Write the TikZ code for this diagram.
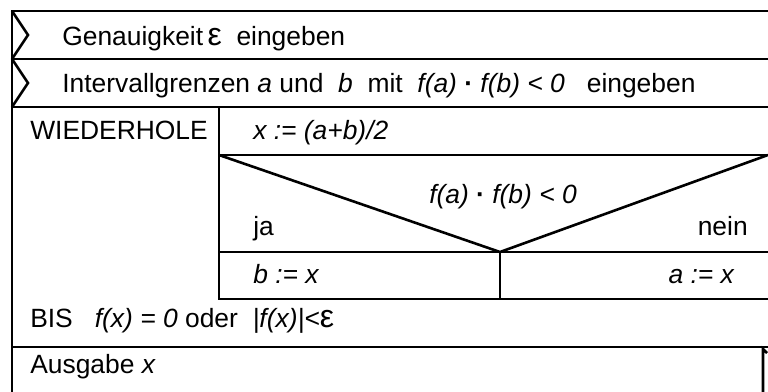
\documentclass[tikz,border=0pt]{standalone}
\usepackage{fontspec}
\setmainfont{Liberation Sans}
\usetikzlibrary{positioning}

\newcommand{\epsbig}{{\fontsize{16}{15}\selectfont ε}}

\begin{document}
\begin{tikzpicture}[x=0.5pt,y=-0.5pt,line width=1.3pt,
  txt/.style={anchor=base west,inner sep=0pt,font=\fontsize{13.2}{15}\selectfont},
  txtr/.style={txt,anchor=base east}]
  \useasboundingbox (0,0) rectangle (768,392);
  % frame and row lines
  \draw (768,11) -- (12,11) -- (12,392);
  \draw (12,59) -- (768,59);
  \draw (12,107) -- (768,107);
  \draw (219,107) -- (219,299) -- (768,299);
  \draw (219,155) -- (768,155);
  \draw (12,347) -- (768,347);
  % input marks
  \draw (12,11) -- (28,35) -- (12,59);
  \draw (12,59) -- (28,83) -- (12,107);
  % decision
  \draw (219,155) -- (500,252) -- (768,155);
  \draw (219,252) -- (768,252);
  \draw (500,252) -- (500,299);
  % output mark
  \draw (767,353) -- (763,349) -- (763,392);
  % texts
  \node[txt] (eps) at (61,45) {Genauigkeit\,\epsbig~~eingeben};
  \node[txt] (ab) at (61,92) {Intervallgrenzen \textit{a} und ~\textit{b} ~mit ~\textit{f(a)} \textbf{·} \textit{f(b) < 0} ~~eingeben};
  \node[txt] (rep) at (29,139) {WIEDERHOLE};
  \node[txt] (mid) at (252,139) {\textit{x := (a+b)/2}};
  \node[txt,anchor=base] (cond) at (503,203) {\textit{f(a)} \textbf{·} \textit{f(b) < 0}};
  \node[txt] (ja) at (252,235) {ja};
  \node[txtr] (nein) at (749,235) {nein};
  \node[txt] (setb) at (252,283) {\textit{b := x}};
  \node[txtr] (seta) at (736,283) {\textit{a := x}};
  \node[txt] (bis) at (29,327) {BIS ~~\textit{f(x) = 0} oder ~\textit{|f(x)|<}\epsbig};
  \node[txt] (out) at (29,373) {Ausgabe \textit{x}};
\end{tikzpicture}
\end{document}
